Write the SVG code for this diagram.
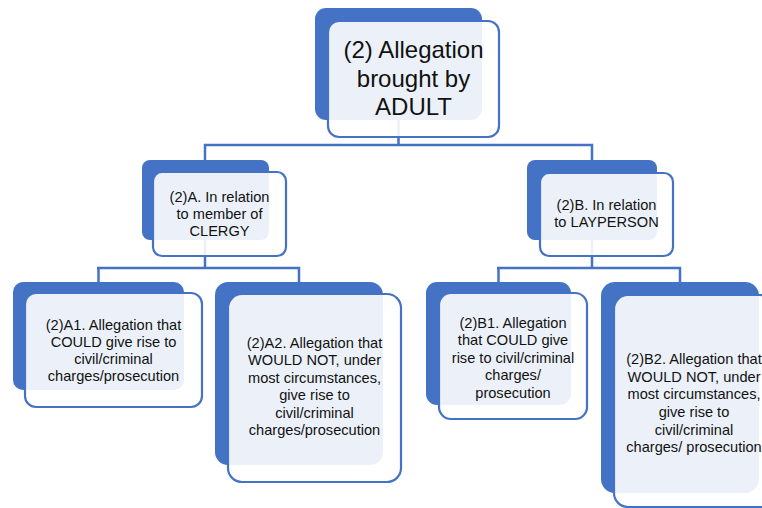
<svg xmlns="http://www.w3.org/2000/svg" width="762" height="508" viewBox="0 0 762 508">
<style>
.back{fill:#4472C4;}
.front{fill:#FFFFFF;fill-opacity:0.9;stroke:#4472C4;stroke-width:2.2;}
.conn{stroke:#4472C4;stroke-width:2.5;fill:none;}
text{font-family:"Liberation Sans",Arial,sans-serif;fill:#111111;text-anchor:middle;}
.t1{font-size:24px;}
.t2{font-size:14.6px;}
</style>
<rect width="762" height="508" fill="#FFFFFF"/>
<g id="connectors">
<path class="conn" d="M398.5,120 V145 M205,145 H593 M205,143.8 V160 M592,143.8 V160"/>
<path class="conn" d="M205,240 V268 M97,268 H300 M98.5,266.8 V282 M299,266.8 V282"/>
<path class="conn" d="M592,240 V268 M497,268 H681 M498.5,266.8 V282 M680,266.8 V282"/>
</g>
<g id="node-top">
<rect class="back" x="315" y="8" width="167" height="112" rx="11"/>
<rect class="front" x="328" y="21" width="171" height="116" rx="11"/>
<text class="t1" x="413.5"><tspan x="413.5" y="58">(2) Allegation</tspan><tspan x="413.5" y="86.5">brought by</tspan><tspan x="413.5" y="115">ADULT</tspan></text>
</g>
<g id="node-A">
<rect class="back" x="142" y="160" width="127" height="80" rx="8"/>
<rect class="front" x="153" y="172" width="133" height="84" rx="9"/>
<text class="t2"><tspan x="219.5" y="201.5">(2)A. In relation</tspan><tspan x="219.5" y="218.5">to member of</tspan><tspan x="219.5" y="235.5">CLERGY</tspan></text>
</g>
<g id="node-B">
<rect class="back" x="527" y="160" width="130" height="80" rx="8"/>
<rect class="front" x="540" y="173" width="133" height="83" rx="9"/>
<text class="t2"><tspan x="606.5" y="210">(2)B. In relation</tspan><tspan x="606.5" y="227">to LAYPERSON</tspan></text>
</g>
<g id="node-A1">
<rect class="back" x="13" y="282" width="171" height="108" rx="10"/>
<rect class="front" x="25" y="293" width="177" height="114" rx="11"/>
<text class="t2"><tspan x="113.5" y="329.5">(2)A1. Allegation that</tspan><tspan x="113.5" y="346.5">COULD give rise to</tspan><tspan x="113.5" y="363.5">civil/criminal</tspan><tspan x="113.5" y="380.5">charges/prosecution</tspan></text>
</g>
<g id="node-A2">
<rect class="back" x="215" y="282" width="168" height="183" rx="13"/>
<rect class="front" x="228" y="294" width="173" height="188" rx="14"/>
<text class="t2"><tspan x="314.5" y="347.5">(2)A2. Allegation that</tspan><tspan x="314.5" y="365">WOULD NOT, under</tspan><tspan x="314.5" y="382.5">most circumstances,</tspan><tspan x="314.5" y="400">give rise to</tspan><tspan x="314.5" y="417.5">civil/criminal</tspan><tspan x="314.5" y="435">charges/prosecution</tspan></text>
</g>
<g id="node-B1">
<rect class="back" x="426" y="282" width="145" height="123" rx="11"/>
<rect class="front" x="439" y="293" width="148" height="126" rx="12"/>
<text class="t2"><tspan x="513" y="327.5">(2)B1. Allegation</tspan><tspan x="513" y="345">that COULD give</tspan><tspan x="513" y="362.5">rise to civil/criminal</tspan><tspan x="513" y="380">charges/</tspan><tspan x="513" y="397.5">prosecution</tspan></text>
</g>
<g id="node-B2">
<rect class="back" x="601" y="282" width="158" height="211" rx="14"/>
<rect class="front" x="614" y="295" width="160" height="212" rx="14"/>
<text class="t2"><tspan x="694" y="364">(2)B2. Allegation that</tspan><tspan x="694" y="381.7">WOULD NOT, under</tspan><tspan x="694" y="399.3">most circumstances,</tspan><tspan x="694" y="417">give rise to</tspan><tspan x="694" y="434.7">civil/criminal</tspan><tspan x="694" y="452.3">charges/ prosecution</tspan></text>
</g>
</svg>
